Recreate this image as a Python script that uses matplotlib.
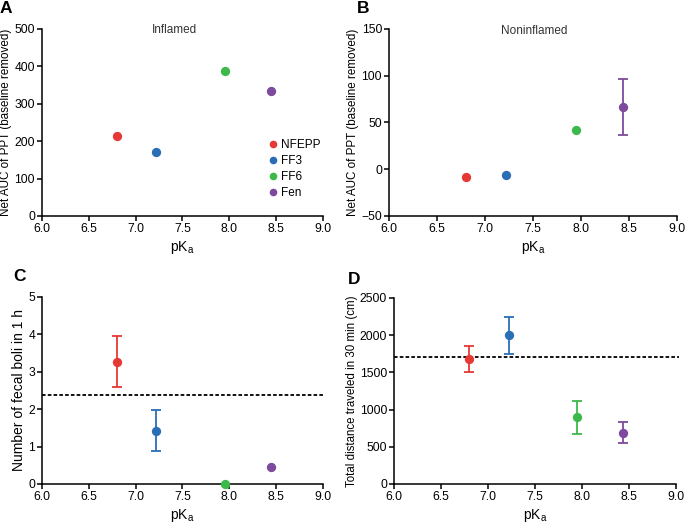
import matplotlib
matplotlib.use("Agg")
import matplotlib.pyplot as plt

plt.rcParams['font.family'] = ['Liberation Sans', 'DejaVu Sans']
plt.rcParams['mathtext.fontset'] = 'custom'
plt.rcParams['mathtext.rm'] = 'Liberation Sans'

drugs = ["NFEPP", "FF3", "FF6", "Fen"]
pka = [6.80, 7.22, 7.95, 8.44]
colors = ["#e53935", "#2a6fb5", "#3cb94a", "#7e4a9d"]

inflamed = [214, 172, 388, 335]
inflamed_err = [0, 0, 0, 0]
noninflamed = [-8, -6, 42, 67]
noninflamed_err = [0, 0, 0, 30]
boli = [3.27, 1.42, 0.0, 0.46]
boli_err = [0.68, 0.55, 0, 0]
boli_baseline = 2.37
distance = [1675, 2000, 895, 690]
distance_err = [175, 250, 220, 143]
distance_baseline = 1710

fig = plt.figure(figsize=(6.85, 5.25), dpi=100)
axA = fig.add_axes([0.0613, 0.5886, 0.4102, 0.3562])
axB = fig.add_axes([0.5679, 0.5886, 0.4204, 0.3562])
axC = fig.add_axes([0.0613, 0.0781, 0.4102, 0.3562])
axD = fig.add_axes([0.5752, 0.0781, 0.4117, 0.3543])

DASH = (0, (2.0, 1.2))

def style(ax, ylim, yticks, ylabel, ylsize):
    ax.set_xlim(6.0, 9.0)
    ax.set_xticks([6.0, 6.5, 7.0, 7.5, 8.0, 8.5, 9.0])
    ax.set_xticklabels(["6.0", "6.5", "7.0", "7.5", "8.0", "8.5", "9.0"])
    ax.set_ylim(*ylim)
    ax.set_yticks(yticks)
    ax.spines['top'].set_visible(False)
    ax.spines['right'].set_visible(False)
    for s in ['left', 'bottom']:
        ax.spines[s].set_linewidth(1.1)
    ax.tick_params(direction='out', length=3.5, width=1.1, labelsize=8.7, pad=1.5)
    ax.set_xlabel(r'pK$_{\mathregular{a}}$', fontsize=10, labelpad=3)
    ax.set_ylabel(ylabel, fontsize=ylsize, labelpad=1.5)
    for sp in ax.spines.values():
        sp.set_clip_on(False)

def plot_points(ax, vals, errs):
    for x, y, e, c, n in zip(pka, vals, errs, colors, drugs):
        if e > 0:
            ax.errorbar(x, y, yerr=e, fmt='none', ecolor=c, elinewidth=1.3,
                        capsize=3.5, capthick=1.3, zorder=3, clip_on=False)
        ax.plot(x, y, 'o', color=c, markersize=6.7, label=n, zorder=4, clip_on=False,
                markeredgewidth=0)

style(axA, (0, 500), [0, 100, 200, 300, 400, 500], "Net AUC of PPT (baseline removed)", 8.4)
plot_points(axA, inflamed, inflamed_err)
axA.text(7.415, 497, "Inflamed", ha='center', va='center', fontsize=8.5, color='#333333')
axA.legend(loc='upper left', bbox_to_anchor=(0.805, 0.412), frameon=False, fontsize=8.5,
           handletextpad=0.3, labelspacing=0.35, markerscale=0.82, handlelength=0.8,
           borderpad=0, borderaxespad=0)

style(axB, (-50, 150), [-50, 0, 50, 100, 150], "Net AUC of PPT (baseline removed)", 8.4)
plot_points(axB, noninflamed, noninflamed_err)
axB.text(7.516, 148, "Noninflamed", ha='center', va='center', fontsize=8.5, color='#333333')

style(axC, (0, 5), [0, 1, 2, 3, 4, 5], "Number of fecal boli in 1 h", 10)
axC.axhline(boli_baseline, color='black', linestyle=DASH, linewidth=1.3, zorder=2)
plot_points(axC, boli, boli_err)

style(axD, (0, 2500), [0, 500, 1000, 1500, 2000, 2500], "Total distance traveled in 30 min (cm)", 8.3)
axD.plot([6.0, 9.03], [distance_baseline] * 2, color='black', linestyle=DASH,
         linewidth=1.3, zorder=2, clip_on=False)
plot_points(axD, distance, distance_err)

for lab, xp, yp in [("A", 0.0, 0.998), ("B", 0.521, 0.998),
                    ("C", 0.019, 0.488), ("D", 0.508, 0.482)]:
    fig.text(xp, yp, lab, fontsize=12.5, fontweight='bold', ha='left', va='top')

fig.savefig("out.png", dpi=100)
